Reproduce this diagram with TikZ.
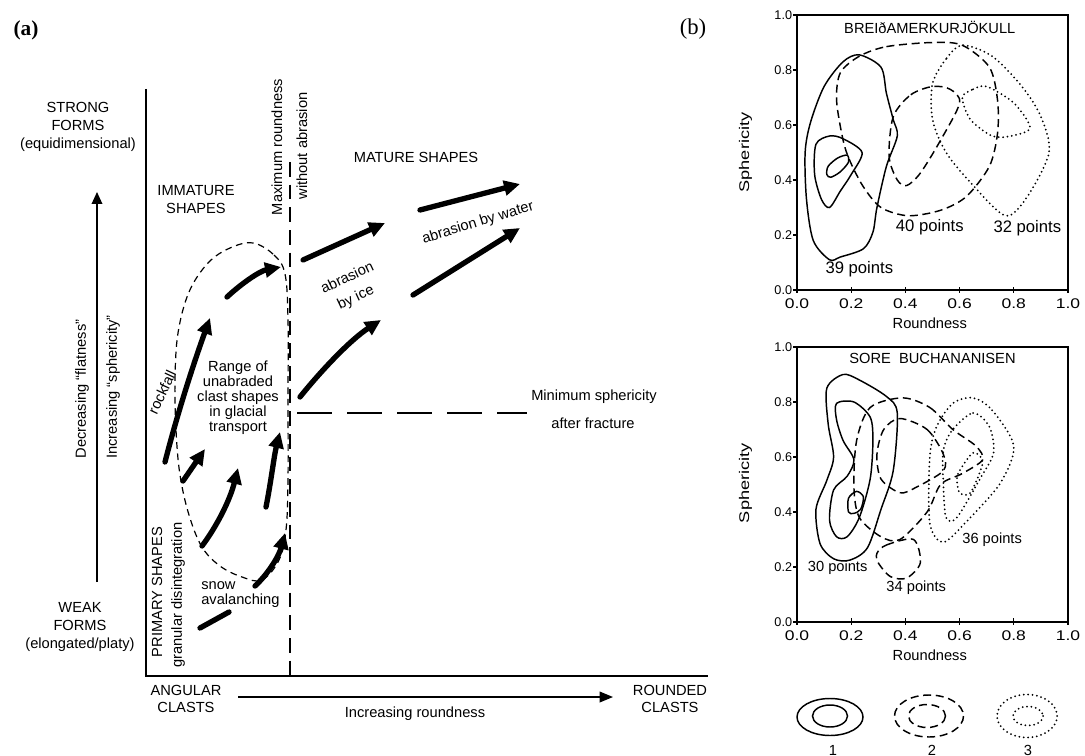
\documentclass[tikz,border=0pt]{standalone}
\usepackage{fontspec}
\setmainfont{Liberation Sans}
\newfontfamily\serifface{Liberation Serif}
\usetikzlibrary{arrows.meta}
\newcommand\fA{\fontsize{11}{13.5}\selectfont}
\newcommand\fR{\fontsize{11}{11.25}\selectfont}
\newcommand\fP{\fontsize{12.5}{14}\selectfont}
\newcommand\fQ{\fontsize{11}{13}\selectfont}
\newcommand\fY{\fontsize{9.5}{11}\selectfont}
\newcommand\fX{\fontsize{10.5}{12}\selectfont}
\begin{document}
\begin{tikzpicture}[x=0.75pt,y=-0.75pt,
  txt/.style={font=\fA, inner sep=0pt, align=center},
  big/.style={line width=4pt, line cap=round, -{Triangle[length=12pt,width=11pt]}},
  ax/.style={line width=1.1pt},
  c1/.style={line width=1.1pt},
  c2/.style={line width=1.1pt, dash pattern=on 6pt off 3.5pt},
  c3/.style={line width=1.5pt, line cap=round, dash pattern=on 0pt off 3.3pt},
  ylab/.style={font=\fY, inner sep=0pt, anchor=east},
  xlab/.style={font=\fX, inner sep=0pt, anchor=north, xscale=1.25},
]
\fill[white] (0,0) rectangle (1085,756);
\useasboundingbox (0,0) rectangle (1085,756);

% ---------- panel labels
\node[font=\serifface\fontsize{16}{18}\selectfont\bfseries, inner sep=0pt] (pa) at (26,30) {(a)};
\node[font=\serifface\fontsize{17}{19}\selectfont, inner sep=0pt] (pb) at (693,29) {(b)};

% ---------- panel (a) axes
\coordinate (ytop) at (146,89);
\coordinate (org) at (146,676);
\coordinate (xend) at (708,676);
\draw[ax] (ytop) -- (org) -- (xend);

\coordinate (vd1) at (290,162);
\coordinate (vd2) at (290,676);
\draw[line width=1.1pt, dash pattern=on 11pt off 6pt] (vd1) -- (vd2);

\coordinate (hd1) at (297,413);
\coordinate (hd2) at (527,413);
\draw[line width=1.1pt, dash pattern=on 26.25pt off 11.25pt] (hd1) -- (hd2);

\coordinate (ya1) at (97,582);
\coordinate (ya2) at (97,192);
\draw[line width=1pt, -{Triangle[length=9pt,width=8pt]}] (ya1) -- (ya2);

\coordinate (xa1) at (238,697);
\coordinate (xa2) at (613,697);
\draw[line width=1.1pt, -{Triangle[length=10pt,width=8pt]}] (xa1) -- (xa2);

% ---------- texts panel (a)
\node[txt] (strong) at (78,127) {STRONG\\FORMS\\(equidimensional)};
\node[txt] (weak) at (80,627) {WEAK\\FORMS\\(elongated/platy)};
\node[txt, rotate=90] (decr) at (82,389) {Decreasing “flatness”};
\node[txt, rotate=90] (incr) at (113,387) {Increasing “sphericity”};
\node[txt] (immat) at (196,200) {IMMATURE\\SHAPES};
\node[txt] (mature) at (416,157) {MATURE SHAPES};
\node[txt, rotate=90] (maxr) at (277,147) {Maximum roundness};
\node[txt, rotate=90] (woab) at (302,146) {without abrasion};
\node[txt, rotate=25] (abice1) at (347,277) {abrasion};
\node[txt, rotate=25] (abice2) at (356,298) {by ice};
\node[txt, rotate=17] (abwat) at (478,223) {abrasion by water};
\node[txt, font=\fR] (range) at (238,398) {Range of\\unabraded\\clast shapes\\in glacial\\transport};
\node[txt, rotate=65] (rockf) at (162,392) {rockfall};
\node[txt, rotate=90] (prim) at (157,592) {PRIMARY SHAPES};
\node[txt, rotate=90] (gran) at (178,595) {granular disintegration};
\node[txt, font=\fR, align=left, anchor=west] (snow) at (201,595) {snow\\avalanching};
\node[txt] (minsph) at (594,397) {Minimum sphericity};
\node[txt] (aftfr) at (593,423) {after fracture};
\node[txt, font=\fontsize{11}{12.75}\selectfont] (angular) at (186,699) {ANGULAR\\CLASTS};
\node[txt, font=\fontsize{11}{12.75}\selectfont] (rounded) at (670,699) {ROUNDED\\CLASTS};
\node[txt] (incrr) at (415,714) {Increasing roundness};

% ---------- dashed loop
\draw[line width=0.9pt, dash pattern=on 5pt off 3.5pt]
  plot[smooth cycle, tension=0.6] coordinates {(253,243) (274,255) (285,274) (288,320) (288,400) (288,480) (286,530) (279,560) (262,580) (242,577) (220,566) (202,547) (189,515) (180,475) (176,430) (175,380) (178,333) (189,292) (208,263) (230,248)};

% ---------- thick arrows
\coordinate (r1a) at (227,297); \coordinate (r1b) at (281,267);
\draw[big] (r1a) .. controls (242,283) and (260,271) .. (r1b);
\coordinate (r2a) at (165,462); \coordinate (r2b) at (210,318);
\draw[big] (r2a) .. controls (177,415) and (193,365) .. (r2b);
\coordinate (r3a) at (183,481); \coordinate (r3b) at (205,449);
\draw[big] (r3a) -- (r3b);
\coordinate (r4a) at (202,546); \coordinate (r4b) at (238,468);
\draw[big] (r4a) .. controls (217,526) and (230,500) .. (r4b);
\coordinate (r5a) at (266,507); \coordinate (r5b) at (280,432);
\draw[big] (r5a) .. controls (271,482) and (274,456) .. (r5b);
\coordinate (r6a) at (255,586); \coordinate (r6b) at (285,533);
\draw[big] (r6a) .. controls (268,574) and (279,556) .. (r6b);
\coordinate (r7a) at (200,628); \coordinate (r7b) at (229,612);
\draw[line width=4pt, line cap=round] (r7a) -- (r7b);
\coordinate (r8a) at (303,260); \coordinate (r8b) at (385,223);
\draw[big] (r8a) -- (r8b);
\coordinate (r9a) at (300,397); \coordinate (r9b) at (381,320);
\draw[big] (r9a) .. controls (320,372) and (350,340) .. (r9b);
\coordinate (r10a) at (420,210); \coordinate (r10b) at (520,184);
\draw[big] (r10a) -- (r10b);
\coordinate (r11a) at (413,295); \coordinate (r11b) at (520,228);
\draw[big] (r11a) -- (r11b);

% ---------- plot 1
\begin{scope}[xshift=597.75pt, yshift=-217.5pt, x=203.25pt, y=206.25pt]
  \draw[ax] (0,0) rectangle (1,1);
  \foreach \v/\t in {0/0.0,0.2/0.2,0.4/0.4,0.6/0.6,0.8/0.8,1/1.0}{
    \draw[line width=0.9pt] (0,\v) -- ++(-3pt,0);
    \draw[line width=0.9pt] (\v,0) ++(0,-2pt) -- ++(0,4pt);
    \node[ylab] at ([xshift=-3.5pt]0,\v) {\t};
    \node[xlab] at ([yshift=-6pt]\v,0) {\t};
  }
  \node[font=\fA, inner sep=0pt] (rn1) at ([yshift=-24.75pt]0.49,0) {Roundness};
  \node[font=\fontsize{10.5}{12}\selectfont, inner sep=0pt, rotate=90, xscale=1.3] (sp1) at (-0.19,0.50) {Sphericity};
  \node[font=\fA, inner sep=0pt] (t1) at (0.49,0.956) {BREIðAMERKURJÖKULL};
  \draw[c1] plot[smooth cycle] coordinates {(0.23,0.855) (0.31,0.81) (0.33,0.715) (0.355,0.62) (0.37,0.56) (0.33,0.45) (0.295,0.30) (0.28,0.21) (0.245,0.15) (0.16,0.12) (0.12,0.11) (0.06,0.18) (0.035,0.33) (0.03,0.50) (0.05,0.61) (0.10,0.74) (0.17,0.83)};
  \draw[c1] plot[smooth cycle] coordinates {(0.07,0.53) (0.12,0.56) (0.17,0.55) (0.24,0.50) (0.20,0.42) (0.16,0.36) (0.12,0.30) (0.09,0.33) (0.065,0.42)};
  \draw[c1] plot[smooth cycle] coordinates {(0.11,0.42) (0.115,0.45) (0.15,0.48) (0.185,0.49) (0.19,0.465) (0.16,0.43) (0.125,0.41)};
  \draw[c2] plot[smooth cycle] coordinates {(0.23,0.85) (0.33,0.885) (0.50,0.90) (0.61,0.89) (0.71,0.81) (0.74,0.69) (0.74,0.57) (0.71,0.45) (0.625,0.34) (0.53,0.29) (0.41,0.27) (0.31,0.30) (0.245,0.375) (0.195,0.47) (0.17,0.545) (0.146,0.69) (0.16,0.79)};
  \draw[c2] plot[smooth cycle] coordinates {(0.355,0.63) (0.42,0.71) (0.50,0.74) (0.565,0.73) (0.60,0.68) (0.53,0.545) (0.455,0.425) (0.405,0.38) (0.37,0.40) (0.34,0.485)};
  \draw[c3] plot[smooth cycle] coordinates {(0.61,0.89) (0.55,0.84) (0.50,0.75) (0.50,0.62) (0.55,0.50) (0.65,0.38) (0.77,0.27) (0.85,0.34) (0.93,0.50) (0.90,0.63) (0.83,0.74) (0.72,0.85)};
  \draw[c3] plot[smooth cycle] coordinates {(0.61,0.70) (0.65,0.73) (0.70,0.74) (0.80,0.68) (0.86,0.59) (0.79,0.56) (0.72,0.56) (0.64,0.62)};
  \node[font=\fP, inner sep=0pt] (p40) at (0.49,0.23) {40 points};
  \node[font=\fP, inner sep=0pt] (p32) at (0.85,0.225) {32 points};
  \node[font=\fP, inner sep=0pt] (p39) at (0.23,0.076) {39 points};
\end{scope}

% ---------- plot 2
\begin{scope}[xshift=597.75pt, yshift=-466.5pt, x=203.25pt, y=206.25pt]
  \draw[ax] (0,0) rectangle (1,1);
  \foreach \v/\t in {0/0.0,0.2/0.2,0.4/0.4,0.6/0.6,0.8/0.8,1/1.0}{
    \draw[line width=0.9pt] (0,\v) -- ++(-3pt,0);
    \draw[line width=0.9pt] (\v,0) ++(0,-2pt) -- ++(0,5pt);
    \node[ylab] at ([xshift=-3.5pt]0,\v) {\t};
    \node[xlab] at ([yshift=-6pt]\v,0) {\t};
  }
  \node[font=\fA, inner sep=0pt] (rn2) at ([yshift=-24.75pt]0.49,0) {Roundness};
  \node[font=\fontsize{10.5}{12}\selectfont, inner sep=0pt, rotate=90, xscale=1.3] (sp2) at (-0.19,0.505) {Sphericity};
  \node[font=\fA, inner sep=0pt] (t2) at (0.50,0.96) {SORE\ \ BUCHANANISEN};
  \draw[c1] plot[smooth cycle] coordinates {(0.17,0.90) (0.23,0.88) (0.33,0.82) (0.37,0.76) (0.355,0.55) (0.31,0.41) (0.26,0.27) (0.195,0.225) (0.135,0.23) (0.085,0.285) (0.07,0.41) (0.11,0.515) (0.135,0.60) (0.115,0.72) (0.11,0.85)};
  \draw[c1] plot[smooth cycle] coordinates {(0.146,0.795) (0.21,0.80) (0.27,0.745) (0.28,0.66) (0.27,0.52) (0.23,0.38) (0.185,0.31) (0.146,0.31) (0.12,0.37) (0.135,0.48) (0.185,0.53) (0.21,0.59) (0.17,0.66) (0.146,0.735)};
  \draw[c1] plot[smooth cycle] coordinates {(0.19,0.40) (0.19,0.45) (0.22,0.475) (0.245,0.455) (0.235,0.41) (0.21,0.395)};
  \draw[c2] plot[smooth cycle] coordinates {(0.39,0.815) (0.49,0.78) (0.575,0.70) (0.66,0.64) (0.685,0.59) (0.61,0.54) (0.53,0.50) (0.48,0.40) (0.38,0.30) (0.31,0.31) (0.23,0.38) (0.21,0.49) (0.22,0.66) (0.27,0.78)};
  \draw[c2] plot[smooth cycle] coordinates {(0.38,0.74) (0.48,0.70) (0.54,0.61) (0.54,0.55) (0.44,0.49) (0.38,0.47) (0.31,0.52) (0.295,0.61) (0.32,0.70)};
  \draw[c2] plot[smooth cycle] coordinates {(0.295,0.25) (0.33,0.28) (0.43,0.30) (0.455,0.215) (0.405,0.16) (0.345,0.165) (0.30,0.215)};
  \draw[c3] plot[smooth cycle] coordinates {(0.65,0.815) (0.72,0.77) (0.80,0.64) (0.75,0.505) (0.63,0.37) (0.54,0.29) (0.49,0.36) (0.49,0.60) (0.515,0.71) (0.575,0.795)};
  \draw[c3] plot[smooth cycle] coordinates {(0.575,0.70) (0.65,0.76) (0.71,0.71) (0.725,0.615) (0.675,0.52) (0.59,0.38) (0.55,0.38) (0.54,0.505) (0.54,0.625)};
  \draw[c3] plot[smooth cycle] coordinates {(0.60,0.55) (0.65,0.615) (0.685,0.58) (0.64,0.47) (0.60,0.47) (0.59,0.52)};
  \node[font=\fQ, inner sep=0pt] (p36) at (0.72,0.30) {36 points};
  \node[font=\fQ, inner sep=0pt] (p30) at (0.15,0.196) {30 points};
  \node[font=\fQ, inner sep=0pt] (p34) at (0.44,0.124) {34 points};
\end{scope}

% ---------- legend
\draw[c1] (830,717) ellipse [x radius=33, y radius=18.5];
\draw[c1] (830,716) ellipse [x radius=17.5, y radius=11];
\draw[c2] (929,716) ellipse [x radius=34.5, y radius=21];
\draw[c2] (927,716) ellipse [x radius=18.5, y radius=11.5];
\draw[c3] (1027,716) ellipse [x radius=30, y radius=21.5];
\draw[c3] (1028,716) ellipse [x radius=15, y radius=9.5];
\node[font=\fQ, inner sep=0pt] (l1) at (833,750) {1};
\node[font=\fQ, inner sep=0pt] (l2) at (932,750) {2};
\node[font=\fQ, inner sep=0pt] (l3) at (1028,750) {3};
\end{tikzpicture}
\end{document}
